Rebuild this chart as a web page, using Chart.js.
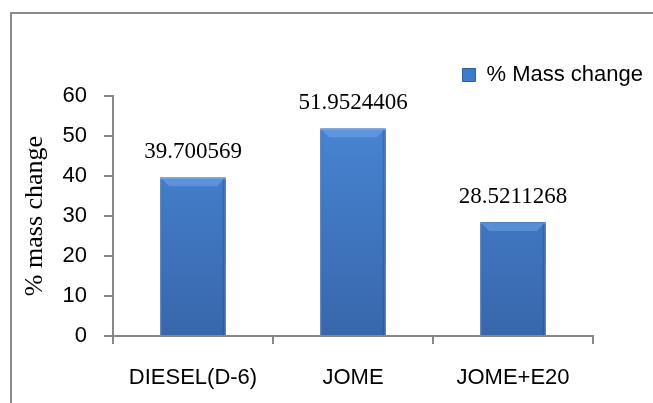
<!DOCTYPE html>
<html>
<head>
<meta charset="utf-8">
<script src="https://cdn.jsdelivr.net/npm/chart.js@4"></script>
<style>
  body { margin: 0; background: #fff; }
  #wrap { position: relative; width: 653px; height: 403px; overflow: hidden; }
  #frame { position: absolute; left: 10px; top: 12px; width: 700px; height: 500px; border: 2px solid #8a8a8a; }
  canvas { position: absolute; left: 0; top: 0; }
</style>
</head>
<body>
<div id="wrap">
  <div id="frame"></div>
  <canvas id="massChart" width="653" height="403"></canvas>
</div>
<script>
// datos
const categories = ["DIESEL(D-6)", "JOME", "JOME+E20"];
const massChange = [39.700569, 51.9524406, 28.5211268];
const valueLabels = ["39.700569", "51.9524406", "28.5211268"];
const yTicks = [0, 10, 20, 30, 40, 50, 60];

const axisGray = "#888888";

// etiquetas encima de cada barra y un bisel como el de Excel
const barDecor = {
    id: "barDecor",
    afterDatasetsDraw(chart) {
        const ctx = chart.ctx;
        const meta = chart.getDatasetMeta(0);
        meta.data.forEach((bar, i) => {
            const left = bar.x - bar.width / 2;
            const right = bar.x + bar.width / 2;
            const top = bar.y;
            const bev = 9;
            ctx.save();
            ctx.fillStyle = "rgba(130,180,240,0.4)";
            ctx.beginPath();
            ctx.moveTo(left, top);
            ctx.lineTo(right, top);
            ctx.lineTo(right - bev, top + bev);
            ctx.lineTo(left + bev, top + bev);
            ctx.closePath();
            ctx.fill();
            ctx.fillStyle = "rgba(30,70,130,0.35)";
            ctx.fillRect(right - 3, top + 2, 3, bar.base - top - 2);
            ctx.fillStyle = "rgba(30,70,130,0.25)";
            ctx.fillRect(left, top + 2, 2, bar.base - top - 2);
            ctx.restore();

            ctx.save();
            ctx.font = "23px 'Liberation Serif', 'Times New Roman', serif";
            ctx.fillStyle = "#000";
            ctx.textAlign = "center";
            ctx.textBaseline = "middle";
            ctx.fillText(valueLabels[i], bar.x, bar.y - 25);
            ctx.restore();
        });
    }
};

function barFill(context) {
    const chart = context.chart;
    const area = chart.chartArea;
    if (!area) return "#4480d0";
    const g = chart.ctx.createLinearGradient(0, area.top, 0, area.bottom);
    g.addColorStop(0, "#4a88d8");
    g.addColorStop(1, "#3767ab");
    return g;
}

function cargarGrafico() {
    new Chart(document.getElementById("massChart"), {
        type: "bar",
        data: {
            labels: categories,
            datasets: [{
                label: "% Mass change",
                data: massChange,
                backgroundColor: barFill,
                borderColor: "#2f5f9f",
                borderWidth: 1,
                barPercentage: 0.41,
                categoryPercentage: 1
            }]
        },
        options: {
            responsive: false,
            animation: false,
            layout: { padding: { top: 54, right: 0, left: 0, bottom: 0 } },
            plugins: {
                tooltip: { enabled: false },
                legend: {
                    position: "top",
                    align: "end",
                    labels: {
                        color: "#000",
                        font: { family: "'Liberation Sans', Arial, sans-serif", size: 22 },
                        boxWidth: 13,
                        boxHeight: 13,
                        padding: 10,
                        generateLabels: () => [{
                            text: "% Mass change",
                            fillStyle: "#3f7bcb",
                            strokeStyle: "#2f5f9f",
                            lineWidth: 1
                        }]
                    }
                }
            },
            scales: {
                x: {
                    afterFit: scale => { scale.height = 67; },
                    grid: { display: true, drawOnChartArea: false, offset: true, tickLength: 8, color: axisGray, lineWidth: 2 },
                    border: { color: axisGray, width: 2 },
                    ticks: {
                        color: "#000",
                        padding: 21,
                        font: { family: "'Liberation Sans', Arial, sans-serif", size: 22 }
                    }
                },
                y: {
                    min: 0,
                    max: 60,
                    afterBuildTicks: scale => { scale.ticks = yTicks.map(v => ({ value: v })); },
                    afterFit: scale => { scale.width = 113; },
                    grid: { display: true, drawOnChartArea: false, tickLength: 9, color: axisGray, lineWidth: 2 },
                    border: { color: axisGray, width: 2 },
                    ticks: {
                        color: "#000",
                        padding: 17,
                        font: { family: "'Liberation Sans', Arial, sans-serif", size: 22 }
                    },
                    title: {
                        display: true,
                        text: "% mass change",
                        color: "#000",
                        padding: { top: 20, bottom: 0 },
                        font: { family: "'Liberation Serif', 'Times New Roman', serif", size: 26, weight: "normal" }
                    }
                },
                y2: {
                    position: "right",
                    display: true,
                    grid: { display: false },
                    border: { display: false },
                    ticks: { display: false },
                    afterFit: scale => { scale.width = 60; }
                }
            }
        },
        plugins: [barDecor]
    });
}

window.onload = cargarGrafico;
</script>
</body>
</html>
